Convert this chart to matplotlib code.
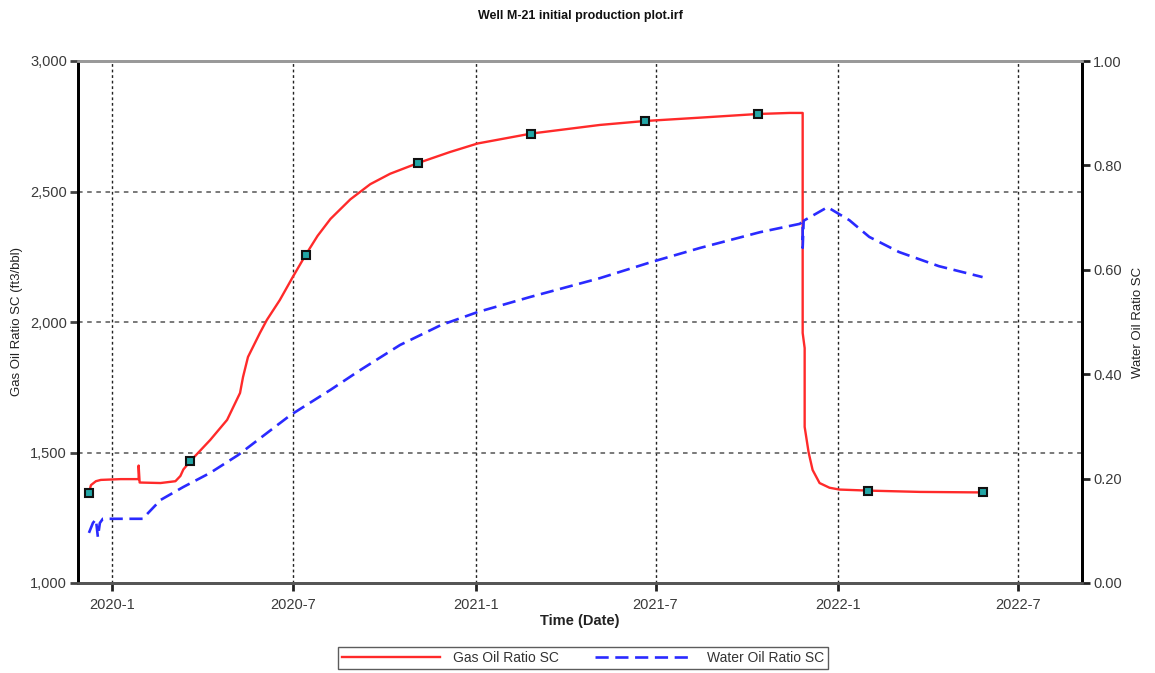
import numpy as np
import pandas as pd
import matplotlib
matplotlib.use("Agg")
import matplotlib.pyplot as plt
import matplotlib.dates as mdates
from matplotlib.ticker import FuncFormatter, FixedLocator

plt.rcParams['font.family'] = ['Liberation Sans', 'DejaVu Sans']

# gas oil ratio, ft3/bbl
gor_dates = ["2019-12-09", "2019-12-11", "2019-12-16", "2019-12-21", "2020-01-10",
             "2020-01-28", "2020-01-28", "2020-01-29", "2020-02-19", "2020-03-05",
             "2020-03-10", "2020-03-13", "2020-03-20", "2020-04-09", "2020-04-26",
             "2020-05-09", "2020-05-12", "2020-05-17", "2020-05-29", "2020-06-05",
             "2020-06-18", "2020-07-01", "2020-07-14", "2020-07-26", "2020-08-08",
             "2020-08-28", "2020-09-17", "2020-10-07", "2020-11-04", "2020-12-06",
             "2021-01-03", "2021-02-26", "2021-05-06", "2021-06-20", "2021-08-15",
             "2021-10-12", "2021-11-13", "2021-11-26", "2021-11-26", "2021-11-28",
             "2021-11-28", "2021-12-02", "2021-12-06", "2021-12-13", "2021-12-23",
             "2022-01-02", "2022-01-31", "2022-03-24", "2022-05-26"]
gor_values = [1345, 1375, 1390, 1395, 1398,
              1398, 1450, 1385, 1383, 1390,
              1410, 1435, 1467, 1548, 1625,
              1728, 1789, 1866, 1958, 2008,
              2084, 2172, 2257, 2330, 2395,
              2470, 2528, 2568, 2609, 2651,
              2684, 2722, 2755, 2770, 2783,
              2797, 2801, 2801, 1958, 1900,
              1598, 1500, 1433, 1383, 1365,
              1358, 1354, 1349, 1347]
marker_dates = ["2019-12-09", "2020-03-20", "2020-07-14", "2020-11-04", "2021-02-26",
                "2021-06-20", "2021-10-12", "2022-01-31", "2022-05-26"]

# water oil ratio
wor_dates = ["2019-12-09", "2019-12-13", "2019-12-16", "2019-12-18", "2019-12-20",
             "2019-12-23", "2020-02-01", "2020-02-19", "2020-03-13", "2020-04-09",
             "2020-05-07", "2020-06-09", "2020-06-29", "2020-08-08", "2020-09-07",
             "2020-10-17", "2020-11-27", "2021-01-03", "2021-02-25", "2021-05-06",
             "2021-06-27", "2021-08-15", "2021-10-14", "2021-11-23", "2021-11-26",
             "2021-11-26", "2021-11-27", "2021-12-21", "2022-01-12", "2022-02-01",
             "2022-03-03", "2022-04-12", "2022-05-26"]
wor_values = [0.096, 0.115, 0.122, 0.088, 0.115,
              0.123, 0.123, 0.159, 0.184, 0.211,
              0.245, 0.293, 0.322, 0.370, 0.408,
              0.456, 0.494, 0.519, 0.548, 0.584,
              0.615, 0.642, 0.672, 0.688, 0.692,
              0.642, 0.694, 0.720, 0.695, 0.663,
              0.634, 0.607, 0.586]

gor_t = pd.to_datetime(gor_dates)
wor_t = pd.to_datetime(wor_dates)
mk_idx = [gor_dates.index(d) for d in marker_dates]

fig = plt.figure(figsize=(11.55, 6.73), dpi=100)
ax = fig.add_axes([78/1155, 90/673, 1004/1155, 522/673])
ax2 = ax.twinx()

red = '#ff2a2a'
blue = '#2a2aff'
l1, = ax.plot(gor_t, gor_values, color=red, lw=1.7, label='Gas Oil Ratio SC', zorder=3)
ax.plot(gor_t[mk_idx], np.array(gor_values)[mk_idx], ls='none', marker='s', ms=6,
        mfc='#23a6a6', mec='#111111', mew=1.5, zorder=4)
l2, = ax2.plot(wor_t, wor_values, color=blue, lw=1.9, dashes=(5, 2.5),
               label='Water Oil Ratio SC', zorder=3)

ax.set_xlim(pd.Timestamp("2019-11-28"), pd.Timestamp("2022-09-03"))
ax.set_ylim(1000, 3000)
ax2.set_ylim(0, 1.0)

ax.xaxis.set_major_locator(mdates.MonthLocator(bymonth=[1, 7]))
ax.xaxis.set_major_formatter(FuncFormatter(
    lambda v, p: f"{mdates.num2date(v).year}-{mdates.num2date(v).month}"))
ax.yaxis.set_major_locator(FixedLocator([1000, 1500, 2000, 2500, 3000]))
ax.yaxis.set_major_formatter(FuncFormatter(lambda v, p: f"{v:,.0f}"))
ax2.yaxis.set_major_locator(FixedLocator(np.arange(0, 1.01, 0.2)))
ax2.yaxis.set_major_formatter(FuncFormatter(lambda v, p: f"{v:.2f}"))

# grid: dotted verticals at date ticks, dashed horizontals
for t in ax.get_xticks():
    ax.axvline(t, color='#222222', lw=1, ls=(0, (2, 2)), zorder=1)
for v in [1500, 2000, 2500]:
    ax.axhline(v, color='#555555', lw=1.1, ls=(0, (3, 3)), zorder=1)

txt = '#3a3a3a'
ax.tick_params(axis='y', length=6, width=2, color='#444444', labelsize=10.5, labelcolor=txt, pad=2)
ax.tick_params(axis='x', length=6, width=2, color='#222222', labelsize=10.5, labelcolor=txt, pad=5)
ax2.tick_params(axis='y', length=6, width=2, color='#222222', labelsize=10.5, labelcolor=txt, pad=2)

for a in (ax, ax2):
    a.spines['left'].set_color('black')
    a.spines['left'].set_linewidth(2)
    a.spines['right'].set_color('black')
    a.spines['right'].set_linewidth(2)
    a.spines['top'].set_color('#999999')
    a.spines['top'].set_linewidth(2)
    a.spines['bottom'].set_color('#555555')
    a.spines['bottom'].set_linewidth(2)

ax.set_ylabel('Gas Oil Ratio SC (ft3/bbl)', fontsize=9.5, color='#222222', labelpad=5)
ax2.set_ylabel('Water Oil Ratio SC', fontsize=9.5, color='#222222', labelpad=7)
ax.set_xlabel('Time (Date)', fontsize=10.5, fontweight='bold', color='#222222', labelpad=1)
fig.text(580/1155, 1 - 16/673, 'Well M-21 initial production plot.irf', ha='center',
         va='center', fontsize=9, fontweight='bold', color='#111111')

leg = fig.legend(handles=[l1, l2], loc='center', bbox_to_anchor=(583/1155, 15/673),
                 ncol=2, fontsize=10, frameon=True, fancybox=False, handlelength=7,
                 columnspacing=2.6, borderpad=0.3, handletextpad=1)
leg.get_frame().set_edgecolor('#333333')
leg.get_frame().set_linewidth(1)
for t in leg.get_texts():
    t.set_color('#333333')

fig.savefig('out.png', dpi=100)
